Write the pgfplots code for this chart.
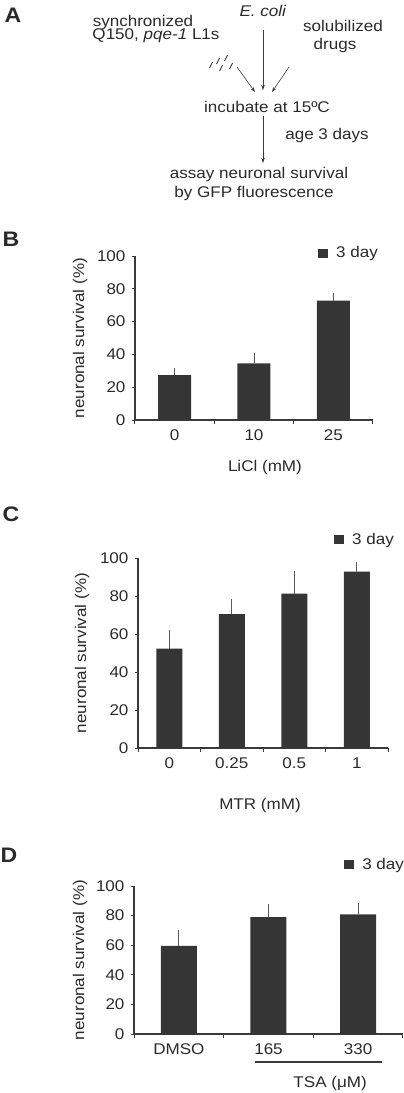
\documentclass[border=0pt]{standalone}
\usepackage{pgfplots}
\pgfplotsset{compat=1.18}
\usepackage{fontspec}
\setmainfont{Liberation Sans}[FakeStretch=1.1]
\usetikzlibrary{arrows.meta}
\definecolor{barc}{HTML}{353535}
\definecolor{axc}{HTML}{3A3A3A}
\definecolor{txt}{HTML}{2A2A2A}
\definecolor{errc}{HTML}{5A5A5A}
\newcommand{\fs}{\fontsize{15.5}{18}\selectfont}

\pgfplotstableread{
x y e
0 27.4 2.1
1 34.6 4.4
2 72.8 2.4
}\dataB
\pgfplotstableread{
x y e
0 52.3 7.9
1 70.5 6.2
2 81.2 10.0
3 92.8 3.5
}\dataC
\pgfplotstableread{
x y e
0 59.6 8.0
1 78.9 6.3
2 80.9 5.2
}\dataD

\pgfplotsset{
  panel/.style={
    scale only axis, anchor=south west,
    axis lines*=left,
    axis line style={axc, line width=1.1pt},
    ymin=0, ymax=100, ytick={0,20,...,100},
    xmin=-0.5,
    tick align=outside,
    major tick length=3pt,
    minor tick length=3.5pt,
    every tick/.style={axc, line width=1pt},
    major x tick style={draw=none},
    minor x tick style={axc, line width=1pt},
    xtick=data,
    /pgf/number format/assume math mode=true,
    tick label style={font=\fs, text=txt},
    xticklabel style={yshift=-3pt},
    yticklabel style={xshift=-3pt},
    label style={font=\fs, text=txt},
    ylabel={neuronal survival (\%)},
    ybar,
    clip=false,
    legend image code/.code={\fill[barc] (0pt,-4.5pt) rectangle (10pt,4.5pt); \path (16pt,0pt);},
    legend style={draw=none, fill=none, inner sep=0pt, font=\fs, text=txt, anchor=west},
  },
  barplot/.style={fill=barc, draw=none,
    error bars/.cd, y dir=plus, y explicit,
    error bar style={errc, line width=0.8pt},
    error mark options={errc, line width=0.8pt, mark size=3.5pt}},
}

\begin{document}
\begin{tikzpicture}[font=\fs]
\useasboundingbox (0pt,0pt) rectangle (404pt,-1093pt);

% Panel A: schematic
\begin{scope}[x=1pt,y=-1pt, text=txt]
\node[font=\fontsize{21}{23}\selectfont\bfseries] at (13,15) {A};
\node at (143,22) {synchronized};
\node at (156,36) {Q150, \textit{pqe-1} L1s};
\node at (263,11) {\textit{E. coli}};
\node at (343,26) {solubilized};
\node at (335,45) {drugs};
\foreach \px/\py in {211/65, 218/61, 226/58, 221/68, 231/66}{
  \draw[axc, line width=0.9pt] (\px-1.5,\py+3) .. controls (\px-1.5,\py+0.5) and (\px+1.5,\py-0.5) .. (\px+1.5,\py-3);
}
\draw[axc, line width=0.6pt, -{Stealth[length=5pt,width=3.5pt]}] (237,67) -- (255,92);
\draw[axc, line width=0.6pt, -{Stealth[length=5pt,width=3.5pt]}] (263,30) -- (263,90);
\draw[axc, line width=0.6pt, -{Stealth[length=5pt,width=3.5pt]}] (289,67) -- (272,92);
\node at (267,107) {incubate at 15ºC};
\draw[axc, line width=0.6pt, -{Stealth[length=5pt,width=3.5pt]}] (263,116) -- (263,163);
\node at (327,135) {age 3 days};
\node at (259,174) {assay neuronal survival};
\node at (254,193) {by GFP fluorescence};
\node[font=\fontsize{21}{23}\selectfont\bfseries] at (11,239) {B};
\node[font=\fontsize{21}{23}\selectfont\bfseries] at (11,514) {C};
\node[font=\fontsize{21}{23}\selectfont\bfseries] at (9,855) {D};
\end{scope}

% Panel B
\begin{axis}[panel, at={(135pt,-420pt)}, width=238pt, height=164pt,
  xmax=2.5, bar width=33pt,
  xticklabels={0,10,25}, minor xtick={-0.5,0.5,1.5,2.5},
  xlabel={LiCl (mM)},
  xlabel style={at={(axis description cs:0.546,-0.29)}, anchor=center},
  ylabel style={at={(axis description cs:-0.231,0.5)}, anchor=center, rotate=0},
  legend style={at={(axis description cs:0.769,1.018)}},
]
\addplot[barplot] table[x=x, y=y, y error=e] {\dataB};
\addlegendentry{3 day}
\end{axis}

% Panel C
\begin{axis}[panel, at={(138pt,-748pt)}, width=250pt, height=190pt,
  xmax=3.5, bar width=26pt,
  xticklabels={0,0.25,0.5,1}, minor xtick={-0.5,0.5,1.5,2.5,3.5},
  xlabel={MTR (mM)},
  xlabel style={at={(axis description cs:0.488,-0.305)}, anchor=center},
  ylabel style={at={(axis description cs:-0.224,0.5)}, anchor=center, rotate=0},
  legend style={at={(axis description cs:0.784,1.095)}},
]
\addplot[barplot] table[x=x, y=y, y error=e] {\dataC};
\addlegendentry{3 day}
\end{axis}

% Panel D
\begin{axis}[panel, at={(134pt,-1034pt)}, width=269pt, height=148pt,
  xmax=2.5, bar width=36pt,
  xticklabels={DMSO,165,330}, minor xtick={-0.5,0.5,1.5,2.5},
  xlabel={TSA (μM)},
  xlabel style={at={(axis description cs:0.729,-0.331)}, anchor=center},
  ylabel style={at={(axis description cs:-0.2,0.5)}, anchor=center, rotate=0},
  legend style={at={(axis description cs:0.781,1.142)}},
]
\addplot[barplot] table[x=x, y=y, y error=e] {\dataD};
\addlegendentry{3 day}
\draw[axc, line width=1.6pt] (axis cs:0.849,-18.9) -- (axis cs:2.265,-18.9);
\end{axis}
\end{tikzpicture}
\end{document}
